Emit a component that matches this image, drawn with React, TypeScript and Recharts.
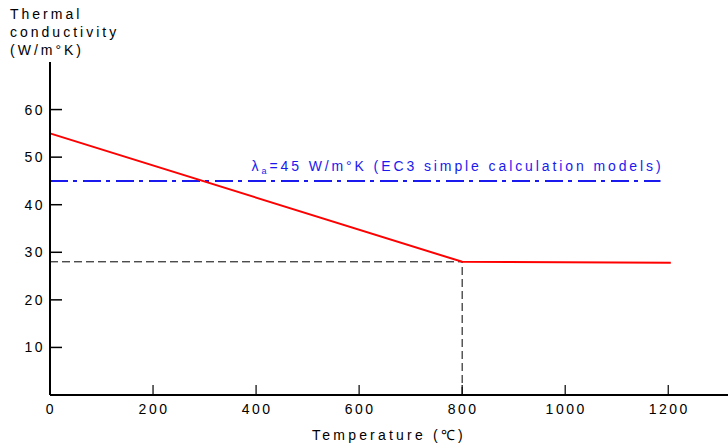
import React from 'react';
import { ComposedChart, Line, XAxis, YAxis, ReferenceLine } from 'recharts';

// steel thermal conductivity vs temperature
const temps = [0, 800, 1205];
const conductivity = [55, 28, 27.8];
const simpleValue = 45;
const simpleRange = [0, 1185];
const breakTemp = 800;
const breakValue = 28;

const xTicks = [0, 200, 400, 600, 800, 1000, 1200];
const yTicks = [10, 20, 30, 40, 50, 60];

const curve = temps.map((t, i) => ({ t, k: conductivity[i] }));

const FONT = '"Liberation Sans", Arial, sans-serif';

const YTick = (props: any) => {
  const { x, y, payload } = props;
  return (
    <g>
      <line x1={x} y1={y} x2={x + 12} y2={y} stroke="#000" strokeWidth={1.5} />
      <text x={x - 5} y={y} dy={5} textAnchor="end" fontSize={14} letterSpacing={2.5} fill="#000" fontFamily={FONT}>
        {payload.value}
      </text>
    </g>
  );
};

const XTick = (props: any) => {
  const { x, y, payload } = props;
  return (
    <g>
      {payload.value !== 0 && <line x1={x} y1={y} x2={x} y2={y - 10} stroke="#000" strokeWidth={1.2} />}
      <text x={x + 1} y={y} dy={19} textAnchor="middle" fontSize={14} letterSpacing={2.5} fill="#000" fontFamily={FONT}>
        {payload.value}
      </text>
    </g>
  );
};

const BlueLabel = (props: any) => {
  const { viewBox } = props;
  return (
    <text x={viewBox.x + viewBox.width + 3} y={viewBox.y - 10} textAnchor="end" fontSize={14} letterSpacing={2.9} fill="#1a1aee" fontFamily={FONT}>
      λ<tspan fontSize={9} dy={3}>a</tspan>
      <tspan dy={-3}>=45 W/m°K (EC3 simple calculation models)</tspan>
    </text>
  );
};

export default function App() {
  return (
    <div style={{ position: 'absolute', left: 0, top: 0, width: 728, height: 446, background: '#fff', fontFamily: FONT }}>
      <div style={{ position: 'absolute', left: 10, top: 5, fontSize: 14, lineHeight: '18px', letterSpacing: 3, color: '#000' }}>
        Thermal<br />conductivity<br />(W/m°K)
      </div>
      <ComposedChart width={728} height={446} margin={{ top: 62, right: 0, left: 0, bottom: 0 }}>
        <XAxis
          type="number"
          dataKey="t"
          domain={[0, 1316]}
          ticks={xTicks}
          height={51}
          tickSize={0}
          tickMargin={0}
          tick={<XTick />}
          axisLine={{ stroke: '#000', strokeWidth: 2 }}
          label={{ value: 'Temperature (℃)', position: 'insideBottom', offset: 6, fontSize: 14, letterSpacing: 3.2, fill: '#000', fontFamily: FONT }}
        />
        <YAxis
          type="number"
          domain={[0, 70]}
          ticks={yTicks}
          width={50}
          tickSize={0}
          tickMargin={0}
          tick={<YTick />}
          axisLine={{ stroke: '#000', strokeWidth: 2 }}
        />
        <ReferenceLine
          segment={[{ x: 0, y: breakValue }, { x: breakTemp, y: breakValue }]}
          stroke="#000"
          strokeWidth={1}
          strokeDasharray="8 4"
        />
        <ReferenceLine
          segment={[{ x: breakTemp, y: 0 }, { x: breakTemp, y: breakValue }]}
          stroke="#000"
          strokeWidth={1}
          strokeDasharray="8 4"
        />
        <ReferenceLine
          segment={[{ x: simpleRange[0], y: simpleValue }, { x: simpleRange[1], y: simpleValue }]}
          stroke="#1a1aee"
          strokeWidth={2}
          strokeDasharray="18 5 4 6"
          label={<BlueLabel />}
        />
        <Line
          data={curve}
          dataKey="k"
          type="linear"
          stroke="#ff0000"
          strokeWidth={2}
          dot={false}
          activeDot={false}
          isAnimationActive={false}
        />
      </ComposedChart>
    </div>
  );
}
